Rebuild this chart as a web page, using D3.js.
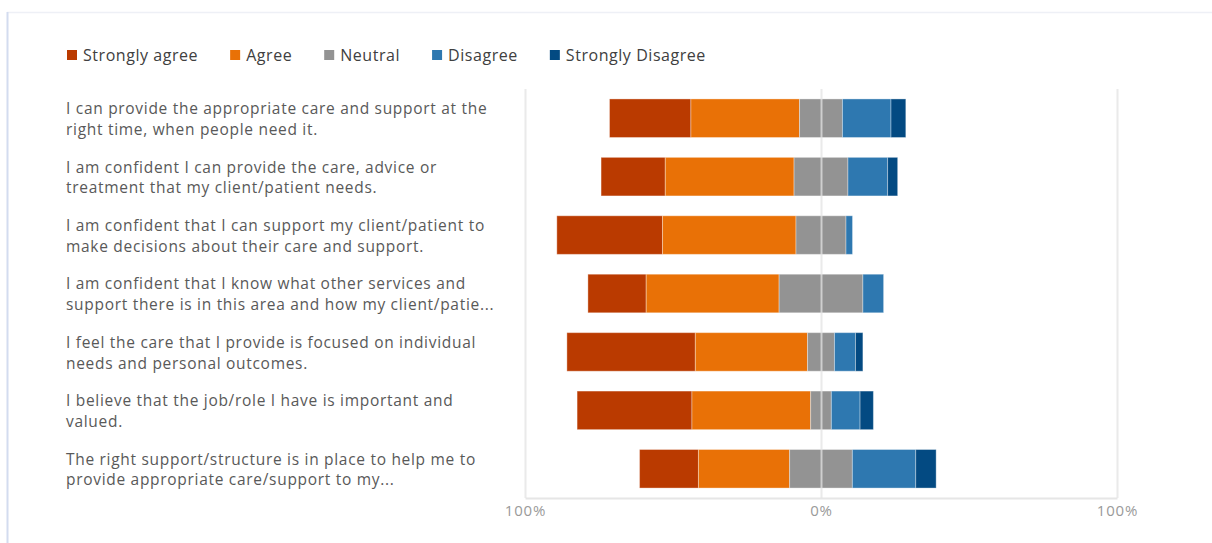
<!DOCTYPE html>
<html>
<head>
<meta charset="utf-8">
<script src="https://cdn.jsdelivr.net/npm/d3@7"></script>
<style>
  body { margin: 0; background: #fff; }
  svg { display: block; font-family: "Open Sans", "Segoe UI", sans-serif; }
</style>
</head>
<body>
<svg id="chart" width="1212" height="543"></svg>
<script>
// question labels, split in two lines as they appear
const categories = [
    ["I can provide the appropriate care and support at the", "right time, when people need it."],
    ["I am confident I can provide the care, advice or", "treatment that my client/patient needs."],
    ["I am confident that I can support my client/patient to", "make decisions about their care and support."],
    ["I am confident that I know what other services and", "support there is in this area and how my client/patie..."],
    ["I feel the care that I provide is focused on individual", "needs and personal outcomes."],
    ["I believe that the job/role I have is important and", "valued."],
    ["The right support/structure is in place to help me to", "provide appropriate care/support to my..."]
];

const seriesNames = ["Strongly agree", "Agree", "Neutral", "Disagree", "Strongly Disagree"];
const seriesColors = ["#BA3A00", "#E97106", "#939393", "#2E78B0", "#034A82"];

// percentages per question
const stronglyAgree    = [27.5, 21.7, 35.7, 19.7, 43.4, 38.8, 19.9];
const agree            = [36.7, 43.5, 45.1, 44.9, 37.9, 40.1, 30.8];
const neutral          = [14.5, 18.2, 16.9, 28.3,  9.1,  7.0, 21.2];
const disagree         = [16.4, 13.4,  2.2,  7.0,  7.1,  9.7, 21.4];
const stronglyDisagree = [ 5.0,  3.4,  0.0,  0.0,  2.5,  4.5,  6.9];

const xTicks = [-100, 0, 100];
const xTickLabels = ["100%", "0%", "100%"];

const svg = d3.select("#chart");

// card frame
svg.append("line").attr("x1", 7).attr("x2", 1212).attr("y1", 12.5).attr("y2", 12.5)
    .attr("stroke", "#eef0f6").attr("stroke-width", 1.5);
svg.append("line").attr("x1", 7.5).attr("x2", 7.5).attr("y1", 12).attr("y2", 543)
    .attr("stroke", "#d3dcef").attr("stroke-width", 2);

// ************************************
// Legend
// ************************************
const legend = svg.append("g").attr("transform", "translate(67,55)");
let lx = 0;
seriesNames.forEach((name, i) => {
    const item = legend.append("g").attr("transform", `translate(${lx},0)`);
    item.append("rect")
        .attr("x", 0).attr("y", -5)
        .attr("width", 10).attr("height", 10)
        .attr("fill", seriesColors[i]);
    const t = item.append("text")
        .attr("x", 16).attr("y", 0)
        .attr("dy", "0.35em")
        .attr("fill", "#404040")
        .style("font-size", "16px")
        .style("letter-spacing", "0.55px")
        .text(name);
    lx += 16 + t.node().getComputedTextLength() + 32;
});

// ************************************
// Scales
// ************************************
const x = d3.scaleLinear().domain([-100, 100]).range([525, 1117]);
const y = d3.scaleBand()
    .domain(d3.range(categories.length))
    .range([89, 498])
    .paddingInner(0.34)
    .paddingOuter(0.17);

// category labels
const labels = svg.append("g");
categories.forEach((lines, i) => {
    const cy = y(i) + y.bandwidth() / 2;
    const t = labels.append("text")
        .attr("x", 66)
        .attr("y", cy - 9.5)
        .attr("fill", "#595959")
        .style("font-size", "15.5px")
        .style("letter-spacing", "0.7px");
    lines.forEach((ln, j) => {
        t.append("tspan")
            .attr("x", 66)
            .attr("dy", j === 0 ? "0.35em" : "20.7px")
            .text(ln);
    });
});

// ************************************
// Diverging stacked bars
// ************************************
const seriesValues = [stronglyAgree, agree, neutral, disagree, stronglyDisagree];
const segments = [];
categories.forEach((c, i) => {
    let start = -(stronglyAgree[i] + agree[i] + neutral[i] / 2);
    seriesValues.forEach((vals, k) => {
        const v = vals[i];
        if (v > 0) segments.push({ row: i, k: k, x0: start, x1: start + v });
        start += v;
    });
});

svg.append("g").selectAll("rect")
    .data(segments)
    .enter().append("rect")
    .attr("x", d => x(d.x0))
    .attr("y", d => y(d.row))
    .attr("width", d => x(d.x1) - x(d.x0))
    .attr("height", y.bandwidth())
    .attr("fill", d => seriesColors[d.k])
    .attr("stroke", "#ffffff")
    .attr("stroke-opacity", 0.35)
    .attr("stroke-width", 1);

// ************************************
// Axis + gridlines (drawn on top, like the original)
// ************************************
const axis = svg.append("g")
    .attr("transform", "translate(0,498)")
    .call(d3.axisBottom(x)
        .tickValues(xTicks)
        .tickFormat((d, i) => xTickLabels[i])
        .tickSize(-(498 - 89))
        .tickSizeOuter(0)
        .tickPadding(7));

axis.select(".domain")
    .attr("stroke", "#e6e6e6")
    .attr("stroke-width", 2);
axis.selectAll(".tick line")
    .attr("stroke", "#e3e3e3")
    .attr("stroke-width", 2)
    .attr("stroke-opacity", 0.75);
axis.selectAll(".tick text")
    .attr("fill", "#9a9a9a")
    .style("font-size", "15px")
    .style("letter-spacing", "0.8px")
    .style("font-family", "'Open Sans', sans-serif");
</script>
</body>
</html>
